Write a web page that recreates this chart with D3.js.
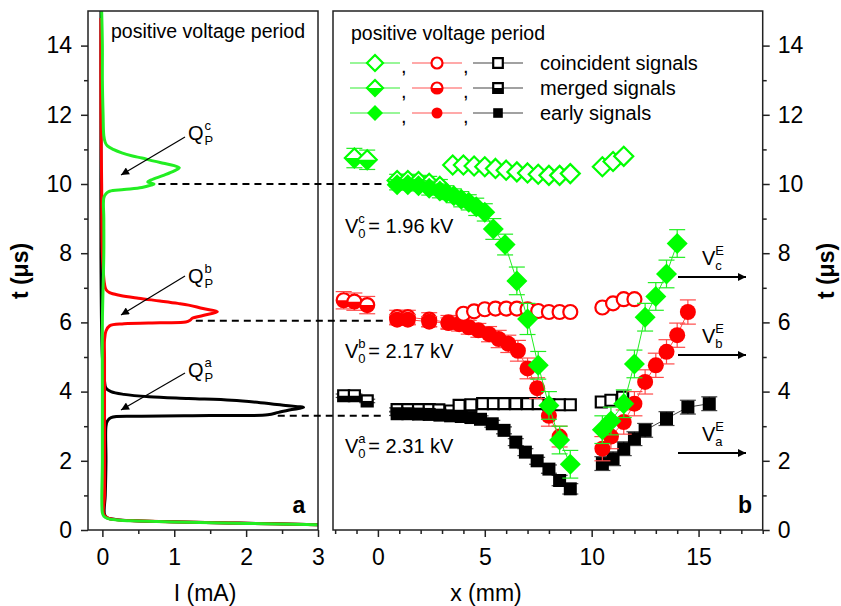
<!DOCTYPE html>
<html>
<head>
<meta charset="utf-8">
<script src="https://cdn.jsdelivr.net/npm/d3@7"></script>
<style>
body { margin: 0; background: #fff; }
svg text { font-family: "Liberation Sans", Arial, sans-serif; fill: #000; }
</style>
</head>
<body>
<div class="chart"></div>
<script>
// ---- panel a : current traces, [t (us), I (mA)] ----
var traceBlack = [[0.15,3.1],[0.2,1.9],[0.24,0.95],[0.27,0.45],[0.3,0.2],[0.35,0.07],[0.45,0.03],[1,0.04],[2,0.05],
  [3,0.05],[3.15,0.07],[3.25,0.12],[3.29,0.5],[3.31,1.5],[3.33,2.3],[3.4,2.45],[3.47,2.6],[3.54,2.8],[3.6,2.55],
  [3.68,2.2],[3.75,1.8],[3.8,1.2],[3.85,0.65],[3.92,0.3],[4.0,0.12],[4.1,0.05],[4.3,0.03],[5,0.0],[8,-0.02],[12,-0.02],[15,-0.02]];
var traceRed = [[0.15,3.1],[0.2,1.8],[0.24,0.9],[0.27,0.45],[0.3,0.18],[0.35,0.07],[0.45,0.02],[1,0.03],[3,0.03],
  [5,0.03],[5.5,0.03],[5.75,0.05],[5.9,0.1],[5.96,0.3],[5.99,0.8],[6.01,1.16],[6.06,1.22],[6.12,1.25],[6.2,1.4],
  [6.31,1.6],[6.4,1.4],[6.5,1.2],[6.55,1.05],[6.62,0.8],[6.7,0.5],[6.78,0.25],[6.86,0.1],[6.95,0.05],[7.1,0.03],
  [8,0.0],[10,-0.01],[12,-0.02],[14.8,-0.02]];
var traceGreen = [[0.15,3.1],[0.19,2.0],[0.23,1.0],[0.26,0.5],[0.29,0.2],[0.33,0.08],[0.4,0.02],[0.5,0.0],[2,0.0],
  [4,0.0],[6,0.0],[8,0.02],[9,0.02],[9.6,0.02],[9.72,0.05],[9.79,0.1],[9.84,0.3],[9.9,0.55],[9.97,0.68],[10.0,0.72],
  [10.06,0.63],[10.12,0.68],[10.25,0.85],[10.38,1.0],[10.47,1.07],[10.53,1.0],[10.6,0.85],[10.66,0.72],[10.75,0.55],
  [10.81,0.42],[10.9,0.27],[11.0,0.15],[11.1,0.07],[11.2,0.04],[11.4,0.02],[12,0.01],[13,0.0],[14,0.0],[15,-0.01]];

// dashed guides: t level, start current in panel a, end x in panel b
var guideT = [10.0, 6.05, 3.3];
var guideI = [0.78, 1.3, 2.44];
var guideX = 0.3;

// ---- panel b : [x (mm), t (us), error] ----
var greenCoinc = [[3.5,10.55],[4.0,10.55],[4.5,10.52],[5.0,10.5],[5.5,10.45],[6.0,10.4],[6.5,10.35],[7.0,10.32],
  [7.5,10.28],[8.0,10.25],[8.5,10.25],[9.0,10.3],[10.5,10.5],[11.0,10.65],[11.5,10.8]];
var greenMerged = [[-1.1,10.75,0.28],[-0.5,10.7,0.28],[0.9,10.1,0.18],[1.4,10.1,0.18],[1.9,10.07,0.18],[2.4,10.02,0.2],[2.9,9.93,0.2]];
var greenEarly = [[0.9,9.98,0.15],[1.4,9.98,0.15],[1.9,9.95,0.15],[2.4,9.88,0.2],[2.9,9.8,0.2],[3.2,9.75,0.2],
  [3.55,9.66,0.2],[3.9,9.56,0.22],[4.25,9.47,0.22],[4.6,9.34,0.25],[5.0,9.18,0.25],[5.4,8.7,0.3],[5.95,8.25,0.3],
  [6.5,7.2,0.4],[7.0,6.1,0.45],[7.5,4.76,0.4],[8.0,3.6,0.4],[8.5,2.6,0.4],[9.0,1.9,0.4],
  [10.5,2.9,0.4],[10.9,3.15,0.4],[11.5,3.65,0.4],[12.0,4.8,0.4],[12.5,6.15,0.4],[13.0,6.75,0.4],[13.5,7.4,0.4],[14.0,8.28,0.4]];

var redCoinc = [[4.0,6.25],[4.5,6.32],[5.0,6.38],[5.5,6.4],[6.0,6.4],[6.5,6.4],[7.0,6.38],[7.5,6.33],[8.0,6.3],
  [8.5,6.3],[9.0,6.3],[10.5,6.43],[11.0,6.55],[11.5,6.67],[12.0,6.67]];
var redMerged = [[-1.6,6.64,0.25],[-1.1,6.6,0.25],[-0.5,6.5,0.25],[0.9,6.15,0.2],[1.4,6.15,0.2],[2.4,6.08,0.2],[3.3,6.0,0.2]];
var redEarly = [[0.9,6.08,0.15],[1.4,6.08,0.15],[2.4,6.02,0.15],[3.3,5.98,0.15],[3.8,5.95,0.2],[4.25,5.86,0.2],
  [4.7,5.77,0.2],[5.2,5.66,0.22],[5.65,5.52,0.25],[6.1,5.38,0.25],[6.55,5.18,0.3],[7.0,4.67,0.3],[7.45,4.1,0.3],
  [8.0,3.3,0.3],[8.5,2.7,0.3],[10.5,2.35,0.35],[10.9,2.7,0.35],[11.5,3.12,0.35],[12.0,3.65,0.35],[12.5,4.28,0.35],
  [13.0,4.76,0.35],[13.5,5.15,0.35],[14.0,5.63,0.35],[14.5,6.3,0.35]];

var blackCoinc = [[3.8,3.6],[4.35,3.62],[4.9,3.65],[5.4,3.65],[5.9,3.65],[6.45,3.65],[7.0,3.65],[7.5,3.65],
  [8.0,3.62],[8.5,3.62],[9.0,3.62],[10.45,3.7],[10.9,3.75],[11.45,3.84]];
var blackMerged = [[-1.6,3.88,0.05],[-1.1,3.88,0.05],[-0.5,3.73,0.05],[0.9,3.48,0.05],[1.4,3.48,0.05],[1.9,3.48,0.05],
  [2.4,3.48,0.05],[2.85,3.47,0.05],[3.4,3.44,0.05]];
var blackEarly = [[0.9,3.36,0.05],[1.4,3.36,0.05],[1.9,3.35,0.05],[2.4,3.34,0.05],[2.9,3.32,0.05],[3.4,3.3,0.05],
  [3.9,3.28,0.1],[4.35,3.25,0.1],[4.8,3.2,0.1],[5.35,3.07,0.1],[5.9,2.88,0.1],[6.45,2.54,0.1],[6.9,2.25,0.1],
  [7.45,2.0,0.1],[8.0,1.76,0.12],[8.5,1.43,0.15],[9.0,1.19,0.15],[10.5,1.92,0.2],[11.0,2.06,0.2],[11.5,2.35,0.2],
  [12.0,2.64,0.2],[12.5,2.88,0.2],[13.5,3.22,0.2],[14.5,3.55,0.2],[15.5,3.65,0.2]];

var legendLabels = ["coincident signals", "merged signals", "early signals"];
var tTicks = [0, 2, 4, 6, 8, 10, 12, 14];

var GREEN = "#00ff00", RED = "#ff0000", BLACK = "#000000";

//setup svg
var svg = d3.select(".chart").append("svg")
    .attr("width", 841)
    .attr("height", 606);

var y = d3.scaleLinear().domain([0, 15]).range([530, 11]);
var xa = d3.scaleLinear().domain([-0.2, 3]).range([88, 318]);
var xb = d3.scaleLinear().domain([-2.1, 18]).range([333, 762.7]);

var defs = svg.append("defs");
defs.append("clipPath").attr("id", "clipA").append("rect")
    .attr("x", xa.range()[0]).attr("y", y(15)).attr("width", xa.range()[1] - xa.range()[0]).attr("height", y(0) - y(15));
defs.append("marker").attr("id", "head").attr("viewBox", "0 0 10 10").attr("refX", 10).attr("refY", 5)
    .attr("markerWidth", 10).attr("markerHeight", 8).attr("markerUnits", "userSpaceOnUse").attr("orient", "auto")
    .append("path").attr("d", "M0,0L10,5L0,10Z").attr("fill", "#000");

// ---------- panel a ----------
var lineA = d3.line()
    .x(function(d) { return xa(d[1]); })
    .y(function(d) { return y(d[0]); })
    .curve(d3.curveCatmullRom);

var ga = svg.append("g").attr("clip-path", "url(#clipA)");
[[traceBlack, BLACK], [traceRed, RED], [traceGreen, "#22ee22"]].forEach(function(tr) {
    ga.append("path").datum(tr[0])
        .attr("d", lineA)
        .attr("fill", "none")
        .attr("stroke", tr[1])
        .attr("stroke-width", 3);
});

// frames
svg.append("rect").attr("x", 88).attr("y", y(15)).attr("width", 230).attr("height", y(0) - y(15))
    .attr("fill", "none").attr("stroke", "#222").attr("stroke-width", 1.5);
svg.append("rect").attr("x", 333).attr("y", y(15)).attr("width", 762.7 - 333).attr("height", y(0) - y(15))
    .attr("fill", "none").attr("stroke", "#222").attr("stroke-width", 1.5);

// axes
function styleAxis(g) {
    g.select(".domain").remove();
    g.selectAll("line").attr("stroke", "#222").attr("stroke-width", 1.5);
    g.selectAll("text").style("font-size", "23px");
}
svg.append("g").attr("transform", "translate(88,0)")
    .call(d3.axisLeft(y).tickValues(tTicks).tickSize(7).tickPadding(9)).call(styleAxis);
svg.append("g").attr("transform", "translate(88,0)")
    .call(d3.axisLeft(y).tickValues([1, 3, 5, 7, 9, 11, 13]).tickSize(4).tickFormat("")).call(styleAxis);
svg.append("g").attr("transform", "translate(0,530)")
    .call(d3.axisBottom(xa).tickValues([0, 1, 2, 3]).tickFormat(d3.format("d")).tickSize(7).tickPadding(12)).call(styleAxis);
svg.append("g").attr("transform", "translate(0,530)")
    .call(d3.axisBottom(xa).tickValues([0.5, 1.5, 2.5]).tickSize(4).tickFormat("")).call(styleAxis);

svg.append("g").attr("transform", "translate(762.7,0)")
    .call(d3.axisRight(y).tickValues(tTicks).tickSize(7).tickPadding(8)).call(styleAxis);
svg.append("g").attr("transform", "translate(762.7,0)")
    .call(d3.axisRight(y).tickValues([1, 3, 5, 7, 9, 11, 13]).tickSize(4).tickFormat("")).call(styleAxis);
svg.append("g").attr("transform", "translate(0,530)")
    .call(d3.axisBottom(xb).tickValues([0, 5, 10, 15]).tickSize(7).tickPadding(12)).call(styleAxis);
svg.append("g").attr("transform", "translate(0,530)")
    .call(d3.axisBottom(xb).tickValues(d3.range(-2, 19).filter(function(v) { return v % 5 !== 0; }))
    .tickSize(4).tickFormat("")).call(styleAxis);

// axis titles
svg.append("text").attr("transform", "translate(28,271) rotate(-90)").attr("text-anchor", "middle")
    .style("font-size", "23px").style("font-weight", "bold").text("t (μs)");
svg.append("text").attr("transform", "translate(834,271) rotate(-90)").attr("text-anchor", "middle")
    .style("font-size", "23px").style("font-weight", "bold").text("t (μs)");
svg.append("text").attr("x", 205).attr("y", 601).attr("text-anchor", "middle")
    .style("font-size", "23px").text("I (mA)");
svg.append("text").attr("x", 486).attr("y", 601).attr("text-anchor", "middle")
    .style("font-size", "23px").text("x (mm)");

// panel labels
svg.append("text").attr("x", 299).attr("y", 513).attr("text-anchor", "middle")
    .style("font-size", "23px").style("font-weight", "bold").text("a");
svg.append("text").attr("x", 745).attr("y", 513).attr("text-anchor", "middle")
    .style("font-size", "23px").style("font-weight", "bold").text("b");

svg.append("text").attr("x", 111).attr("y", 38).style("font-size", "19.5px").text("positive voltage period");
svg.append("text").attr("x", 351).attr("y", 40).style("font-size", "19.5px").text("positive voltage period");

// label with stacked super/subscript
function stacked(x, yb, main, sup, sub, size, gap) {
    var t = svg.append("text").attr("x", x).attr("y", yb).style("font-size", size + "px");
    t.append("tspan").text(main);
    var w = t.node().getComputedTextLength();
    svg.append("text").attr("x", x + w + gap).attr("y", yb - 10).style("font-size", "13px").text(sup);
    svg.append("text").attr("x", x + w + gap).attr("y", yb + 5).style("font-size", "13px").text(sub);
    return x + w + gap;
}

// Q annotations with arrows
[["c", 140, 137, 175], ["b", 283, 276, 315], ["a", 377, 373, 410]].forEach(function(q) {
    stacked(188, q[1], "Q", q[0], "P", 20, 1);
    svg.append("line").attr("x1", 185).attr("y1", q[2]).attr("x2", 121).attr("y2", q[3])
        .attr("stroke", "#000").attr("stroke-width", 1.2).attr("marker-end", "url(#head)");
});

// V0 annotations
[["c", "1.96", 233], ["b", "2.17", 358], ["a", "2.31", 453]].forEach(function(v) {
    var ex = stacked(345, v[2], "V", v[0], "0", 20, 0);
    svg.append("text").attr("x", ex + 10).attr("y", v[2]).style("font-size", "20px").text("= " + v[1] + " kV");
});

// VE arrows
[["c", 265, 277], ["b", 343, 355], ["a", 441, 453]].forEach(function(v) {
    stacked(702, v[1], "V", "E", v[0], 20, 0);
    svg.append("line").attr("x1", 678).attr("y1", v[2]).attr("x2", 746).attr("y2", v[2])
        .attr("stroke", "#000").attr("stroke-width", 1.8).attr("marker-end", "url(#head)");
});

// ---------- panel b ----------
function shapePath(shape, r) {
    if (shape === "diamond") return "M0," + (-r) + "L" + r + ",0L0," + r + "L" + (-r) + ",0Z";
    if (shape === "square") return "M" + (-r) + "," + (-r) + "H" + r + "V" + r + "H" + (-r) + "Z";
    return "M" + (-r) + ",0A" + r + "," + r + " 0 1,1 " + r + ",0A" + r + "," + r + " 0 1,1 " + (-r) + ",0Z";
}
function lowerHalf(shape, r) {
    if (shape === "diamond") return "M" + (-r) + ",0L0," + r + "L" + r + ",0Z";
    if (shape === "square") return "M" + (-r) + ",0H" + r + "V" + r + "H" + (-r) + "Z";
    return "M" + (-r) + ",0A" + r + "," + r + " 0 0,0 " + r + ",0Z";
}
function drawMarker(sel, shape, style, color, r) {
    if (style === "full") {
        sel.append("path").attr("d", shapePath(shape, r)).attr("fill", color);
        return;
    }
    sel.append("path").attr("d", shapePath(shape, r)).attr("fill", "#fff");
    if (style === "half") sel.append("path").attr("d", lowerHalf(shape, r)).attr("fill", color);
    sel.append("path").attr("d", shapePath(shape, r)).attr("fill", "none")
        .attr("stroke", color).attr("stroke-width", 2.2);
}

// split series where there is a gap in x
function groups(data) {
    var out = [[]];
    data.forEach(function(d, i) {
        if (i > 0 && d[0] - data[i - 1][0] > 1.2) out.push([]);
        out[out.length - 1].push(d);
    });
    return out;
}

var sizes = {diamond: 10.5, circle: 8, square: 6.5};
var sizesOpen = {diamond: 9.5, circle: 7, square: 5.5};

var series = [
    {data: blackMerged, color: BLACK, bar: "#444", shape: "square", style: "half"},
    {data: blackEarly, color: BLACK, bar: "#444", shape: "square", style: "full"},
    {data: blackCoinc, color: BLACK, bar: "#444", shape: "square", style: "open"},
    {data: redMerged, color: RED, bar: "#ff4a4a", shape: "circle", style: "half"},
    {data: redEarly, color: RED, bar: "#ff4a4a", shape: "circle", style: "full"},
    {data: redCoinc, color: RED, bar: "#ff4a4a", shape: "circle", style: "open"},
    {data: greenMerged, color: GREEN, bar: "#22ee22", shape: "diamond", style: "half"},
    {data: greenEarly, color: GREEN, bar: "#22ee22", shape: "diamond", style: "full"},
    {data: greenCoinc, color: GREEN, bar: "#22ee22", shape: "diamond", style: "open"}
];

var lineB = d3.line()
    .x(function(d) { return xb(d[0]); })
    .y(function(d) { return y(d[1]); });

series.forEach(function(s) {
    var g = svg.append("g");
    groups(s.data).forEach(function(grp) {
        g.append("path").datum(grp).attr("d", lineB)
            .attr("fill", "none").attr("stroke", s.bar).attr("stroke-width", 1);
    });
    s.data.forEach(function(d) {
        if (d[2] === undefined) return;
        var cx = xb(d[0]);
        g.append("line").attr("x1", cx).attr("x2", cx).attr("y1", y(d[1] - d[2])).attr("y2", y(d[1] + d[2]))
            .attr("stroke", s.bar).attr("stroke-width", 1.2);
        [d[1] - d[2], d[1] + d[2]].forEach(function(v) {
            g.append("line").attr("x1", cx - 8).attr("x2", cx + 8).attr("y1", y(v)).attr("y2", y(v))
                .attr("stroke", s.bar).attr("stroke-width", 1.2);
        });
    });
    s.data.forEach(function(d) {
        var m = g.append("g").attr("transform", "translate(" + xb(d[0]) + "," + y(d[1]) + ")");
        drawMarker(m, s.shape, s.style, s.color, s.style === "full" ? sizes[s.shape] : sizesOpen[s.shape]);
    });
});

// dashed guides across panels
guideT.forEach(function(t, i) {
    svg.append("line").attr("x1", xa(guideI[i])).attr("x2", xb(guideX)).attr("y1", y(t)).attr("y2", y(t))
        .attr("stroke", "#000").attr("stroke-width", 2).attr("stroke-dasharray", "7,5");
});

// legend
var legRows = [63, 88, 113];
var legStyles = ["open", "half", "full"];
var legCols = [[375, GREEN, "#33ee33", "diamond", 8], [437, RED, "#ff5555", "circle", 5.5], [498, BLACK, "#444", "square", 4.8]];
legRows.forEach(function(ry, i) {
    legCols.forEach(function(c, j) {
        svg.append("line").attr("x1", c[0] - 25).attr("x2", c[0] + 25).attr("y1", ry).attr("y2", ry)
            .attr("stroke", c[2]).attr("stroke-width", 1.2);
        var m = svg.append("g").attr("transform", "translate(" + c[0] + "," + ry + ")");
        drawMarker(m, c[3], legStyles[i], c[1], c[4]);
        if (j < 2) svg.append("text").attr("x", c[0] + 26).attr("y", ry + 10).style("font-size", "20px").text(",");
    });
    svg.append("text").attr("x", 540).attr("y", ry + 7).style("font-size", "20px").text(legendLabels[i]);
});
</script>
</body>
</html>
